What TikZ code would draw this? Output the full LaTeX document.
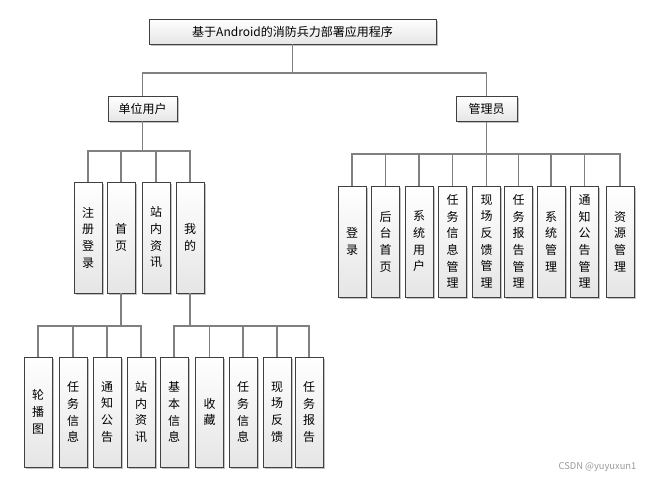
\documentclass[tikz,border=0pt]{standalone}
\usepackage{fontspec}
\setmainfont{Noto Sans CJK SC}
\usetikzlibrary{shadows}

\begin{document}
\begin{tikzpicture}[x=0.75pt, y=-0.75pt,
    box/.style={draw=black!75, line width=0.6pt, top color=white, bottom color=black!10,
        drop shadow={shadow xshift=1.2pt, shadow yshift=-1.2pt, fill=black!40, opacity=0.6},
        inner sep=0pt, align=center, font=\fontsize{9}{12.5}\selectfont},
    col/.style={box, minimum width=21pt, minimum height=83.25pt},
    conn/.style={draw=black!50, line width=1pt}]
    \useasboundingbox (0,0) rectangle (649,480);

    % top levels
    \node[box, minimum width=215.25pt, minimum height=18.75pt] (app) at (292.5,31.5) {基于Android的消防兵力部署应用程序};
    \node[box, minimum width=51.75pt, minimum height=18.75pt] (user) at (142.5,108.5) {单位用户};
    \node[box, minimum width=45.75pt, minimum height=18.75pt] (admin) at (486.5,109) {管理员};

    % user modules
    \node[col] (reg) at (88,237.5) {注\\册\\登\\录};
    \node[col] (home) at (121,237.5) {首\\页};
    \node[col] (news) at (156,237.5) {站\\内\\资\\讯};
    \node[col] (mine) at (190,237.5) {我\\的};

    % admin modules
    \node[col] (login) at (352,241.5) {登\\录};
    \node[col] (back) at (385.5,241.5) {后\\台\\首\\页};
    \node[col] (sysuser) at (419,241.5) {系\\统\\用\\户};
    \node[col] (taskmgr) at (452.5,241.5) {任\\务\\信\\息\\管\\理};
    \node[col] (fbmgr) at (486.5,241.5) {现\\场\\反\\馈\\管\\理};
    \node[col] (reportmgr) at (518.5,241.5) {任\\务\\报\\告\\管\\理};
    \node[col] (sysmgr) at (551,241.5) {系\\统\\管\\理};
    \node[col] (noticemgr) at (584.5,241.5) {通\\知\\公\\告\\管\\理};
    \node[col] (resmgr) at (620,241.5) {资\\源\\管\\理};

    % home page
    \node[col, minimum height=82.5pt] (banner) at (38,412) {轮\\播\\图};
    \node[col, minimum height=82.5pt] (task) at (73,412) {任\\务\\信\\息};
    \node[col, minimum height=82.5pt] (notice) at (107,412) {通\\知\\公\\告};
    \node[col, minimum height=82.5pt] (info) at (141,412) {站\\内\\资\\讯};

    % mine
    \node[col, minimum height=82.5pt] (profile) at (174,412) {基\\本\\信\\息};
    \node[col, minimum height=82.5pt] (fav) at (209.5,412) {收\\藏};
    \node[col, minimum height=82.5pt] (mytask) at (243,412) {任\\务\\信\\息};
    \node[col, minimum height=82.5pt] (feedback) at (277,412) {现\\场\\反\\馈};
    \node[col, minimum height=82.5pt] (report) at (309,412) {任\\务\\报\\告};

    \node[font=\fontsize{7}{8}\selectfont, text=black!40, anchor=east] (mark) at (641,467) {CSDN @yuyuxun1};

    \coordinate (bus0) at (0,73);
    \coordinate (bus1) at (0,151);
    \coordinate (bus2) at (0,154);
    \coordinate (bus3) at (0,326);

    \draw[conn] (app) -- (app |- bus0) -| (user);
    \draw[conn] (app |- bus0) -| (admin);

    \draw[conn] (user) -- (user |- bus1);
    \draw[conn] (reg) |- (mine |- bus1) -- (mine);
    \draw[conn] (home) -- (home |- bus1);
    \draw[conn] (news) -- (news |- bus1);

    \draw[conn] (admin) -- (fbmgr);
    \draw[conn] (login) |- (resmgr |- bus2) -- (resmgr);
    \draw[conn] (back) -- (back |- bus2);
    \draw[conn] (sysuser) -- (sysuser |- bus2);
    \draw[conn] (taskmgr) -- (taskmgr |- bus2);
    \draw[conn] (reportmgr) -- (reportmgr |- bus2);
    \draw[conn] (sysmgr) -- (sysmgr |- bus2);
    \draw[conn] (noticemgr) -- (noticemgr |- bus2);

    \draw[conn] (home) -- (home |- bus3);
    \draw[conn] (banner) |- (info |- bus3) -- (info);
    \draw[conn] (task) -- (task |- bus3);
    \draw[conn] (notice) -- (notice |- bus3);

    \draw[conn] (mine) -- (mine |- bus3);
    \draw[conn] (profile) |- (report |- bus3) -- (report);
    \draw[conn] (fav) -- (fav |- bus3);
    \draw[conn] (mytask) -- (mytask |- bus3);
    \draw[conn] (feedback) -- (feedback |- bus3);
\end{tikzpicture}
\end{document}
